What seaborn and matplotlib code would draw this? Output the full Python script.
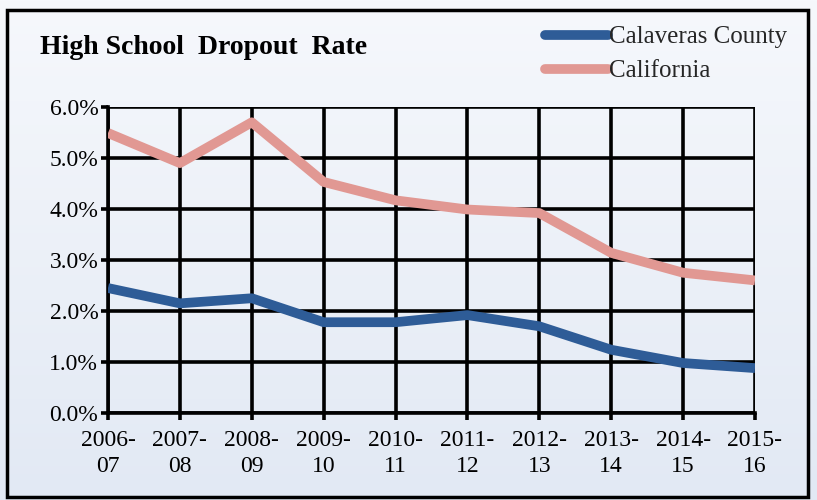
import numpy as np
import pandas as pd
import matplotlib
matplotlib.use("Agg")
import matplotlib.pyplot as plt
import seaborn as sns
from matplotlib.patches import Rectangle
from matplotlib.colors import LinearSegmentedColormap
from matplotlib.lines import Line2D

years = ["2006-\n07", "2007-\n08", "2008-\n09", "2009-\n10", "2010-\n11",
         "2011-\n12", "2012-\n13", "2013-\n14", "2014-\n15", "2015-\n16"]
calaveras = [2.45, 2.15, 2.25, 1.78, 1.78, 1.92, 1.70, 1.24, 0.98, 0.88]
california = [5.49, 4.90, 5.70, 4.53, 4.17, 3.99, 3.92, 3.14, 2.75, 2.60]
series_names = ["Calaveras County", "California"]
yticks = [0, 1, 2, 3, 4, 5, 6]
title = "High School  Dropout  Rate"

df = pd.DataFrame({
    "Year": years * 2,
    "Rate": calaveras + california,
    "Series": [series_names[0]] * len(years) + [series_names[1]] * len(years),
})

sns.set_theme(style="white")
plt.rcParams["font.family"] = ["Liberation Serif", "DejaVu Serif"]

fig = plt.figure(figsize=(8.17, 5.0), dpi=100)

# gradient background
bg = fig.add_axes([0, 0, 1, 1], zorder=-10)
grad = np.linspace(0, 1, 256).reshape(-1, 1)
cmap = LinearSegmentedColormap.from_list("bg", ["#f6f8fc", "#e2e9f4"])
bg.imshow(grad, aspect="auto", cmap=cmap, extent=[0, 1, 0, 1], origin="upper")
bg.set_axis_off()

# border
fig.patches.append(Rectangle((7 / 817, 3 / 500), 801 / 817, 487 / 500,
                             transform=fig.transFigure, fill=False,
                             edgecolor="black", linewidth=2.5, zorder=5))

ax = fig.add_axes([108 / 817, 1 - 413 / 500, (755 - 108) / 817, (413 - 107) / 500])
ax.patch.set_alpha(0)

palette = {series_names[0]: "#2E5C97", series_names[1]: "#E19893"}
sns.lineplot(data=df, x="Year", y="Rate", hue="Series", palette=palette,
             linewidth=7, sort=False, ax=ax, legend=False, zorder=3,
             solid_capstyle="butt")

ax.set_xlim(0, len(years) - 1)
ax.set_ylim(0, 6)
ax.set_yticks(yticks)
ax.set_yticklabels([f"{v:.1f}%" for v in yticks])
ax.set_xticks(range(len(years)))
ax.set_xticklabels(years, linespacing=1.35)
ax.set_xlabel("")
ax.set_ylabel("")
ax.grid(True, color="black", linewidth=2.6, zorder=1)
ax.set_axisbelow(True)
for s in ax.spines.values():
    s.set_visible(False)
for side in ("left", "bottom"):
    ax.spines[side].set_visible(True)
    ax.spines[side].set_linewidth(2.6)
    ax.spines[side].set_color("black")
ax.tick_params(axis="both", which="major", length=5, width=2.6, color="black",
               labelsize=17, labelcolor="black", left=True, bottom=True)
ax.tick_params(axis="y", pad=2)
ax.tick_params(axis="x", pad=7)

fig.text(40 / 817, 1 - 47 / 500, title, fontsize=20, fontweight="bold",
         va="center", ha="left", color="black")

handles = [Line2D([0], [0], color=palette[n], linewidth=7) for n in series_names]
fig.legend(handles, series_names, loc="upper left",
           bbox_to_anchor=(545 / 817, 1 - 26 / 500), frameon=False,
           fontsize=18, handlelength=2.5, handletextpad=0.05,
           labelspacing=0.45, borderpad=0, borderaxespad=0)

fig.savefig("out.png", dpi=100)
